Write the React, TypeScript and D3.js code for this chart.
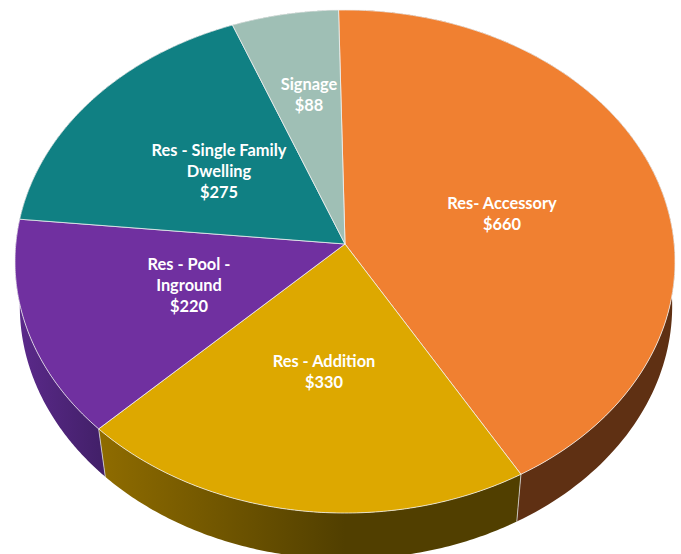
import React from "react";
import * as d3 from "d3";

const categories = ["Res- Accessory", "Res - Addition", "Res - Pool - Inground", "Res - Single Family Dwelling", "Signage"];
const values = [660, 330, 220, 275, 88];
const labelLines = [["Res- Accessory"], ["Res - Addition"], ["Res - Pool -", "Inground"], ["Res - Single Family", "Dwelling"], ["Signage"]];
const topColors = ["#F08031", "#DDA800", "#7030A0", "#108083", "#9FBFB5"];
const wallStart = ["#5F3013", "#8F6C00", "#5C2A8C", "#0A5052", "#64786F"];
const wallEnd = ["#5F3013", "#513F00", "#43206A", "#0A5052", "#64786F"];

const W = 681, H = 554;
const cx = 345, cy = 244;
const A = 329.2, B = 250.3, P = 0.0696;
const startDeg = -1.2;
const lowCx = 346, lowA = 325.4, lowB = 251.8, lowCy = 288.4;
const warp = (0.7 * Math.PI) / 180;
const labelAt: [number, number][] = [[502, 208.5], [324, 366.5], [189, 269.5], [219, 155.5], [309, 89.5]];
const lineH = 21;

const projectWith = (a: number, x0: number, ax: number, by: number, y0: number): [number, number] => {
  const u = Math.sin(a), v = -Math.cos(a);
  const d = 1 - P * v;
  return [x0 + (ax * u) / d, y0 + (by * v) / d];
};
const project = (a: number) => projectWith(a, cx, A, B, cy);
const lower = (a: number) => projectWith(a - warp * Math.sin(2 * a), lowCx, lowA, lowB, lowCy);

export default function App() {
  const start = (startDeg * Math.PI) / 180;
  const arcs = d3.pie<number>().sort(null).startAngle(start).endAngle(start + 2 * Math.PI)(values);
  const line = d3.line();
  const angles = (a0: number, a1: number) => d3.range(0, 121).map((i) => a0 + ((a1 - a0) * i) / 120);
  const rim = (a0: number, a1: number) => angles(a0, a1).map(project);
  return (
    <svg width={W} height={H} viewBox={`0 0 ${W} ${H}`} style={{ position: "fixed", left: 0, top: 0, background: "#fff" }}>
      <defs>
        {arcs.map((s, i) => {
          const xs = rim(s.startAngle, s.endAngle).map((p) => p[0]);
          const lo = d3.min(xs)!;
          const hi = i === 1 ? cx : d3.max(xs)!;
          return (
            <linearGradient key={i} id={`wall${i}`} gradientUnits="userSpaceOnUse" x1={lo} x2={hi} y1={0} y2={0}>
              <stop offset="0" stopColor={wallStart[i]} />
              <stop offset="1" stopColor={wallEnd[i]} />
            </linearGradient>
          );
        })}
      </defs>
      <g>
        {arcs.map((s, i) => {
          const as = angles(s.startAngle, s.endAngle);
          const top = as.map(project);
          const bottom = as.map(lower).reverse();
          return <path key={i} d={line([...top, ...bottom])! + "Z"} fill={`url(#wall${i})`} />;
        })}
        {arcs.slice(0, 2).map((s, i) => (
          <path key={i} d={line([project(s.endAngle), lower(s.endAngle)])!} stroke="#D9D9D9" strokeOpacity={0.8} strokeWidth={1} fill="none" />
        ))}
      </g>
      <g>
        {arcs.map((s, i) => (
          <path
            key={categories[i]}
            d={line([[cx, cy], ...rim(s.startAngle, s.endAngle)])! + "Z"}
            fill={topColors[i]}
            stroke="#F2F2F2"
            strokeOpacity={0.85}
            strokeWidth={0.9}
            strokeLinejoin="round"
          />
        ))}
      </g>
      <g fontFamily="Lato, 'Open Sans', sans-serif" fontWeight={700} fontSize={16.4} fill="#fff" textAnchor="middle">
        {arcs.map((s, i) => (
          <text key={i} x={labelAt[i][0]} y={labelAt[i][1]}>
            {[...labelLines[i], d3.format("$,")(values[i])].map((t, j) => (
              <tspan key={j} x={labelAt[i][0]} dy={j === 0 ? 0 : lineH}>{t}</tspan>
            ))}
          </text>
        ))}
      </g>
    </svg>
  );
}
